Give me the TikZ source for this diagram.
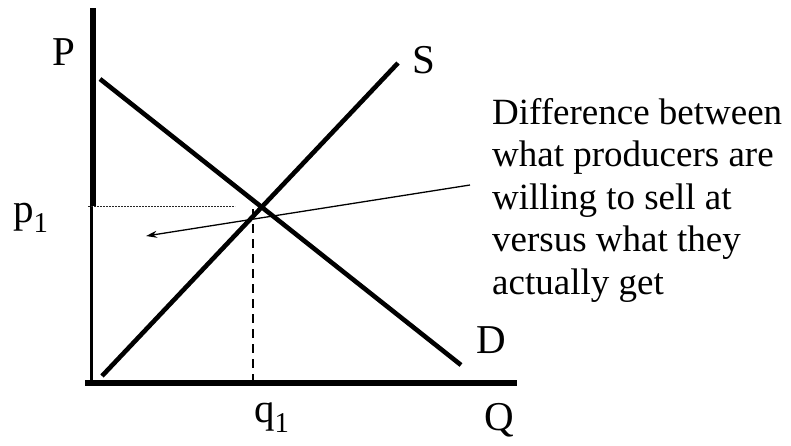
\documentclass[tikz,border=0pt]{standalone}
\usepackage{fontspec}
\setmainfont{Liberation Serif}
\usetikzlibrary{arrows.meta}
\begin{document}
\begin{tikzpicture}[x=1pt,y=-1pt,
  axis/.style={line width=5.5pt},
  curve/.style={line width=4.6pt},
  lbl/.style={inner sep=0pt,anchor=base west,font=\fontsize{41}{45}\selectfont},
  note/.style={inner sep=0pt,anchor=north west,align=left,font=\fontsize{37}{42.5}\selectfont},
]
\useasboundingbox (0,0) rectangle (791,445);
% coordinates
\coordinate (ytop) at (93,8);
\coordinate (yp) at (93,206);
\coordinate (yp2) at (91.5,204);
\coordinate (ybot) at (91.5,381);
\coordinate (xl) at (85,383);
\coordinate (xr) at (517,383);
\coordinate (s1) at (102,376);
\coordinate (s2) at (398,63);
\coordinate (d1) at (100,79);
\coordinate (d2) at (461,365);
\coordinate (pd1) at (88,206);
\coordinate (pd2) at (235,206);
\coordinate (qd1) at (253,209);
\coordinate (qd2) at (253,380);
\coordinate (a1) at (470,185);
\coordinate (a2) at (146,236);
% axes
\draw[axis] (ytop) -- (yp);
\draw[line width=3pt] (yp2) -- (ybot);
\draw[line width=6pt] (xl) -- (xr);
% curves
\draw[curve] (s1) -- (s2);
\draw[curve] (d1) -- (d2);
% guides
\draw[line width=1pt,black!85,dash pattern=on 2pt off 1pt] (pd1) -- (pd2);
\draw[line width=2.3pt,dash pattern=on 9pt off 6pt] (qd1) -- (qd2);
% arrow
\draw[line width=1.3pt,-{Stealth[length=11pt,width=7pt]}] (a1) -- (a2);
% labels
\node[lbl] (P) at (52,65) {P};
\node[lbl] (S) at (412,73) {S};
\node[lbl] (D) at (476,353) {D};
\node[lbl] (Q) at (484,430) {Q};
\node[lbl] (p1) at (13,222) {p\textsubscript{1}};
\node[lbl] (q1) at (254,422) {q\textsubscript{1}};
\node[note] (txt) at (492,98) {Difference between\\what producers are\\willing to sell at\\versus what they\\actually get};
\end{tikzpicture}
\end{document}
